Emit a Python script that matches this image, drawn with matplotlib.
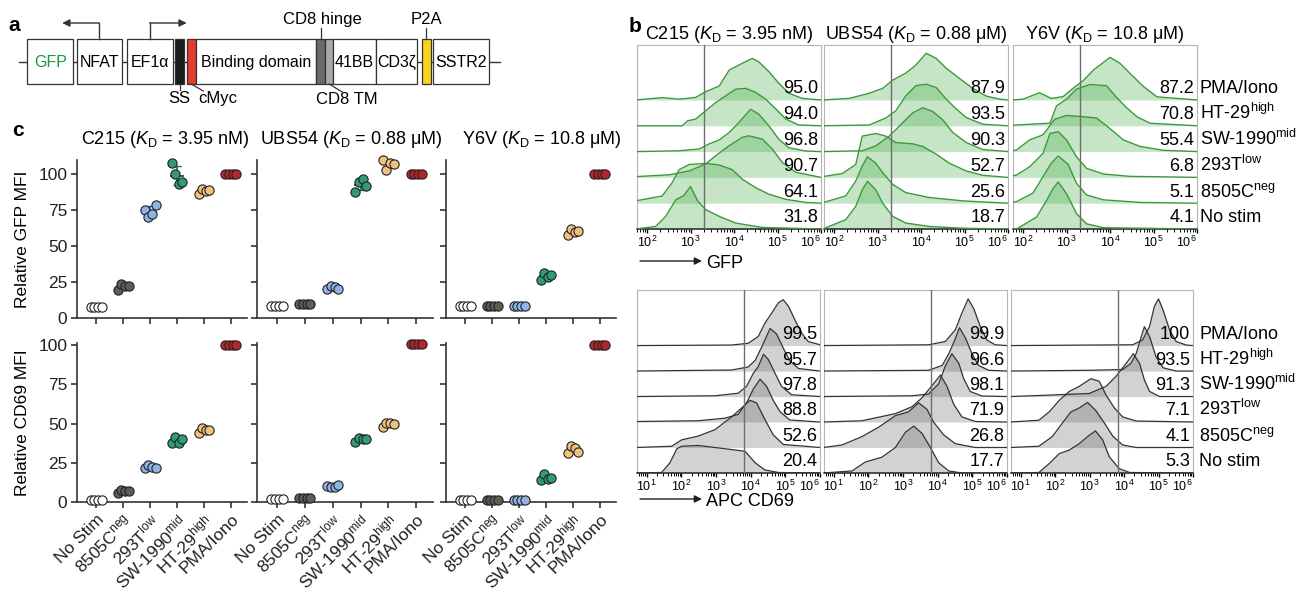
import numpy as np
import matplotlib
matplotlib.use('Agg')
import matplotlib.pyplot as plt
from matplotlib.patches import Rectangle
from matplotlib.ticker import LogLocator, NullFormatter

plt.rcParams['font.family'] = ['Liberation Sans', 'DejaVu Sans']
plt.rcParams['mathtext.fontset'] = 'custom'
plt.rcParams['mathtext.rm'] = 'Liberation Sans'
plt.rcParams['mathtext.it'] = 'Liberation Sans:italic'
plt.rcParams['mathtext.bf'] = 'Liberation Sans:bold'
plt.rcParams['mathtext.default'] = 'regular'

# ---------------- data ----------------
# panel a: construct parts (name, width in px, gap before, fill)
parts = ['GFP', 'NFAT', 'EF1α', 'SS', 'cMyc', 'Binding domain', 'CD8 hinge',
         'CD8 TM', '41BB', 'CD3ζ', 'P2A', 'SSTR2']
part_w = [46, 45, 46, 9.3, 9, 120.3, 9, 8.3, 42.7, 41.3, 9, 56.3]
part_gap = [8.3, 3.4, 5, 2.3, 2.4, 0, 0, 0, 0, 0, 4.4, 2]
part_fill = ['white', 'white', 'white', '#1c1c1c', '#e53a2f', 'white', '#6a6a6a',
             '#a9a9ab', 'white', 'white', '#f9d21a', 'white']

binders = ['C215', 'UBS54', 'Y6V']
kd_text = ['3.95 nM', '0.88 μM', '10.8 μM']

# panel b: rows top -> bottom
flow_rows = ['PMA/Iono', 'HT-29$^{high}$', 'SW-1990$^{mid}$', '293T$^{low}$',
             '8505C$^{neg}$', 'No stim']
gfp_pct_C215 = ['95.0', '94.0', '96.8', '90.7', '64.1', '31.8']
gfp_pct_UBS54 = ['87.9', '93.5', '90.3', '52.7', '25.6', '18.7']
gfp_pct_Y6V = ['87.2', '70.8', '55.4', '6.8', '5.1', '4.1']
cd69_pct_C215 = ['99.5', '95.7', '97.8', '88.8', '52.6', '20.4']
cd69_pct_UBS54 = ['99.9', '96.6', '98.1', '71.9', '26.8', '17.7']
cd69_pct_Y6V = ['100', '93.5', '91.3', '7.1', '4.1', '5.3']

# histogram outlines: (log10 intensity, height in row units)
gfp_C215 = [
    ([1.74, 2.35, 2.74, 3.12, 3.35, 3.66, 3.89, 4.19, 4.42, 4.57, 4.80, 5.03, 5.26, 5.57, 6.0],
     [0, .09, .03, .10, .32, .54, 1.16, 1.42, 1.61, 1.48, 1.10, .65, .26, .06, 0]),
    ([1.74, 2.81, 2.93, 3.12, 3.35, 3.58, 3.81, 4.04, 4.27, 4.50, 4.73, 4.96, 5.19, 5.49, 6.0],
     [0, 0, .19, .26, .58, .90, 1.16, 1.42, 1.45, 1.29, 1.03, .65, .26, .03, 0]),
    ([1.74, 2.74, 3.20, 3.43, 3.66, 3.89, 4.11, 4.38, 4.57, 4.80, 5.03, 5.26, 5.65, 6.0],
     [0, .03, .10, .30, .45, .74, 1.12, 1.64, 1.45, 1.0, .48, .15, .02, 0]),
    ([1.74, 2.51, 2.97, 3.35, 3.58, 3.89, 4.19, 4.34, 4.65, 4.88, 5.11, 5.42, 6.0],
     [.03, .10, .25, .52, .84, 1.23, 1.55, 1.61, 1.48, 1.10, .58, .20, 0]),
    ([1.74, 2.35, 2.58, 2.74, 2.97, 3.35, 3.66, 3.96, 4.19, 4.50, 4.80, 5.19, 5.65, 6.0],
     [.09, .28, .80, 1.30, 1.50, 1.54, 1.48, 1.30, .93, .60, .35, .15, .03, 0]),
    ([1.74, 2.20, 2.43, 2.66, 2.85, 3.00, 3.16, 3.35, 3.66, 4.04, 4.65, 6.0],
     [0, .10, .49, 1.13, 1.30, 1.65, 1.10, .75, .49, .23, .06, 0]),
]
gfp_UBS54 = [
    ([1.74, 2.35, 2.81, 3.12, 3.35, 3.65, 3.88, 4.12, 4.35, 4.58, 4.88, 5.19, 5.50, 5.81, 6.0],
     [0, .06, .26, .45, .77, 1.04, 1.35, 1.81, 1.61, 1.23, .84, .45, .15, .03, 0]),
    ([1.74, 2.81, 3.19, 3.42, 3.65, 3.88, 4.12, 4.35, 4.58, 4.81, 5.04, 5.42, 6.0],
     [0, .03, .30, .58, 1.16, 1.55, 1.61, 1.48, 1.03, .65, .32, .06, 0]),
    ([1.74, 2.65, 2.96, 3.27, 3.58, 3.81, 4.04, 4.27, 4.50, 4.73, 5.04, 5.42, 6.0],
     [0, .03, .22, .60, 1.12, 1.50, 1.70, 1.55, 1.23, .74, .35, .08, 0]),
    ([1.74, 2.19, 2.50, 2.65, 2.96, 3.19, 3.42, 3.81, 4.04, 4.35, 4.65, 5.04, 5.42, 6.0],
     [.03, .15, .50, 1.60, 1.70, 1.60, 1.35, 1.30, 1.20, .90, .55, .25, .08, 0]),
    ([1.74, 2.27, 2.50, 2.65, 2.77, 2.96, 3.12, 3.35, 3.65, 4.19, 4.96, 6.0],
     [.02, .28, .86, 1.44, 1.80, 1.55, 1.18, .73, .41, .22, .09, 0]),
    ([1.74, 2.27, 2.50, 2.65, 2.77, 2.96, 3.12, 3.35, 3.65, 4.19, 4.96, 6.0],
     [0, .36, .88, 1.52, 1.85, 1.52, 1.0, .49, .23, .10, .03, 0]),
]
gfp_Y6V = [
    ([1.74, 2.0, 2.38, 2.65, 2.92, 3.15, 3.38, 3.62, 4.0, 4.23, 4.46, 4.77, 5.08, 6.0],
     [0, .03, .28, .06, .13, .45, .74, 1.16, 1.65, 1.42, 1.03, .52, .12, 0]),
    ([1.74, 2.62, 2.77, 3.0, 3.23, 3.54, 3.92, 4.15, 4.38, 4.62, 4.92, 6.0],
     [.02, .10, .77, 1.03, 1.42, 1.60, 1.55, 1.10, .70, .35, .10, 0]),
    ([1.74, 1.85, 2.15, 2.46, 2.73, 3.0, 3.38, 3.69, 3.92, 4.31, 4.69, 5.23, 6.0],
     [.03, .06, .45, .65, 1.25, 1.40, 1.35, 1.30, 1.0, .45, .20, .05, 0]),
    ([1.74, 1.85, 2.15, 2.46, 2.62, 2.81, 3.0, 3.23, 3.46, 3.85, 4.46, 6.0],
     [.05, .09, .41, .93, 1.70, 1.77, 1.45, .80, .35, .13, .04, 0]),
    ([1.74, 1.85, 2.23, 2.46, 2.65, 2.81, 3.04, 3.23, 3.46, 3.85, 4.69, 6.0],
     [.04, .06, .39, 1.03, 1.55, 1.83, 1.50, .77, .32, .13, .03, 0]),
    ([1.74, 1.85, 2.31, 2.54, 2.69, 2.81, 3.0, 3.23, 3.46, 3.85, 6.0],
     [0, 0, .46, 1.10, 1.56, 1.82, 1.37, .60, .20, .05, 0]),
]
cd69_C215 = [
    ([0.7, 3.45, 3.93, 4.22, 4.41, 4.61, 4.80, 4.94, 5.09, 5.28, 5.47, 5.66, 6.0],
     [0, .02, .09, .36, .88, 1.28, 1.68, 1.80, 1.54, 1.0, .49, .16, .03]),
    ([0.7, 2.0, 3.45, 3.93, 4.13, 4.32, 4.56, 4.75, 4.94, 5.13, 5.38, 6.0],
     [0, .02, .04, .16, .42, .95, 1.67, 1.45, .90, .40, .10, 0]),
    ([0.7, 2.97, 3.64, 3.88, 4.08, 4.22, 4.37, 4.51, 4.70, 4.89, 5.18, 6.0],
     [0, .03, .13, .40, .92, 1.18, 1.66, 1.45, .92, .40, .07, 0]),
    ([0.7, 2.49, 3.26, 3.64, 3.88, 4.08, 4.27, 4.46, 4.65, 4.85, 5.13, 6.0],
     [.02, .05, .15, .30, .75, 1.30, 1.68, 1.40, .85, .40, .08, 0]),
    ([0.7, 1.72, 2.01, 2.49, 2.97, 3.45, 3.74, 3.98, 4.17, 4.41, 4.65, 4.94, 6.0],
     [0, .05, .30, .45, .70, 1.20, 1.55, 1.85, 1.75, 1.10, .50, .12, 0]),
    ([0.7, 1.43, 1.67, 1.87, 2.01, 2.49, 2.97, 3.45, 3.84, 4.13, 4.41, 4.80, 6.0],
     [0, .02, .40, .95, 1.05, 1.08, 1.0, .92, .85, .40, .12, .02, 0]),
]
cd69_UBS54 = [
    ([0.7, 3.74, 4.22, 4.51, 4.70, 4.88, 5.04, 5.23, 5.42, 5.66, 6.0],
     [0, .03, .16, .62, 1.28, 1.83, 1.45, .75, .22, .03, 0]),
    ([0.7, 3.74, 4.13, 4.32, 4.49, 4.63, 4.80, 4.99, 5.18, 5.47, 6.0],
     [0, .03, .22, .68, 1.20, 1.70, 1.30, .68, .22, .03, 0]),
    ([0.7, 3.26, 3.74, 4.03, 4.22, 4.41, 4.61, 4.75, 4.94, 5.28, 6.0],
     [0, .03, .10, .50, 1.20, 1.68, 1.30, .70, .20, .02, 0]),
    ([0.7, 1.82, 2.78, 3.26, 3.55, 3.79, 4.08, 4.27, 4.46, 4.70, 5.09, 6.0],
     [0, .05, .33, .60, .95, 1.35, 1.84, 1.40, .70, .20, .02, 0]),
    ([0.7, 1.24, 1.82, 2.30, 2.78, 3.16, 3.45, 3.69, 3.88, 4.17, 4.51, 5.09, 6.0],
     [0, .10, .43, .80, 1.25, 1.40, 1.75, 1.50, 1.0, .50, .15, 0, 0]),
    ([0.7, 1.53, 1.91, 2.39, 2.78, 3.07, 3.31, 3.55, 3.79, 4.03, 4.32, 4.70, 6.0],
     [0, .08, .43, .62, 1.0, 1.60, 1.84, 1.55, 1.0, .40, .08, 0, 0]),
]
cd69_Y6V = [
    ([0.7, 4.25, 4.54, 4.74, 4.88, 5.0, 5.13, 5.32, 5.51, 5.80, 6.0],
     [0, .03, .22, .75, 1.54, 1.83, 1.40, .62, .16, .02, 0]),
    ([0.7, 2.99, 3.96, 4.20, 4.35, 4.50, 4.59, 4.74, 4.93, 5.13, 5.51, 6.0],
     [0, .03, .06, .30, .68, 1.35, 1.74, 1.35, .55, .13, 0, 0]),
    ([0.7, 1.53, 2.99, 3.48, 3.77, 4.06, 4.27, 4.45, 4.59, 4.74, 5.03, 6.0],
     [0, .04, .12, .40, .80, 1.30, 1.68, 1.30, .65, .20, 0, 0]),
    ([0.7, 1.53, 1.83, 2.12, 2.41, 2.70, 3.04, 3.28, 3.48, 3.72, 3.96, 4.35, 6.0],
     [0, .07, .40, .85, 1.20, 1.40, 1.70, 1.60, 1.05, .55, .20, .04, 0]),
    ([0.7, 1.53, 1.92, 2.21, 2.46, 2.70, 2.94, 3.18, 3.43, 3.67, 3.96, 4.35, 6.0],
     [0, .05, .43, .96, 1.40, 1.55, 1.77, 1.45, .96, .45, .10, 0, 0]),
    ([0.7, 1.53, 1.83, 2.12, 2.41, 2.70, 2.99, 3.17, 3.38, 3.57, 3.86, 4.16, 6.0],
     [0, .02, .37, .76, .90, 1.15, 1.48, 1.65, 1.30, .64, .17, .02, 0]),
]
gfp_gate = 10 ** 3.3
cd69_gate = 10 ** 3.82

# panel c: stimulation groups, left -> right
groups = ['No Stim', '8505C$^{neg}$', '293T$^{low}$', 'SW-1990$^{mid}$',
          'HT-29$^{high}$', 'PMA/Iono']
group_colors = ['#ffffff', '#5a5f55', '#8fb4e3', '#2f9c74', '#f0c27f', '#b3262a']
group_dark = ['#333333', '#33362f', '#3c5f8c', '#1b6a4c', '#9c7434', '#6e1215']

gfp_mfi_C215 = [[8, 8, 8, 8], [19.5, 23.5, 22, 22], [75.5, 70, 72.3, 78.5],
                [108, 100.5, 93, 95], [86, 90, 88.5, 89], [100, 100, 100, 100]]
gfp_mfi_UBS54 = [[8.5, 8.5, 8.5, 8.5], [10, 10, 10, 10], [20, 22, 21.5, 20.5],
                 [88, 94.7, 97, 91.7], [110, 103, 108, 107.4], [100, 100, 100, 100]]
gfp_mfi_Y6V = [[8.5, 8.5, 8.5, 8.5], [8.5, 8.5, 8.5, 8.5], [8.5, 8.5, 8.5, 8.5],
               [26.4, 31, 28.7, 30], [57.6, 62.3, 59.7, 60.5], [100, 100, 100, 100]]
cd69_mfi_C215 = [[1.3, 1.3, 1.3, 1.3], [6, 7.5, 7, 7], [21.5, 23.5, 22, 21.5],
                 [37.4, 41.3, 37.4, 40.2], [43.8, 47, 46, 46], [100, 100, 100, 100]]
cd69_mfi_UBS54 = [[1.9, 1.9, 1.9, 1.9], [2.5, 2.5, 2.5, 2.5], [10.5, 9.8, 9.8, 11],
                  [38.5, 41, 40, 40], [48, 50.5, 50.5, 50], [100.5, 100.5, 100.5, 100.5]]
cd69_mfi_Y6V = [[1.5, 1.5, 1.5, 1.5], [1.2, 1.2, 1.2, 1.2], [1.2, 1.2, 1.2, 1.2],
                [13.8, 17.7, 14.5, 15], [30.9, 35.5, 34.7, 31.9], [100, 100, 100, 100]]

# ---------------- figure ----------------
W, H = 1303, 590
fig = plt.figure(figsize=(W / 100, H / 100), dpi=100)


def add_ax(l, t, r, b):
    return fig.add_axes([l / W, 1 - b / H, (r - l) / W, (b - t) / H])


ov = fig.add_axes([0, 0, 1, 1])
ov.set_xlim(0, W)
ov.set_ylim(H, 0)
ov.axis('off')

# panel letters
for s, x, y in [('a', 8, 31), ('b', 629, 32), ('c', 12, 136)]:
    ov.text(x, y, s, fontsize=15, fontweight='bold', va='baseline')

# ---- panel a: schematic ----
ytop, ybot = 39, 84
ymid = (ytop + ybot) / 2
x0 = 19
ov.plot([x0, 500], [ymid, ymid], color='#333333', lw=1, zorder=1)
left = {}
x = x0
for name, w, g, fc in zip(parts, part_w, part_gap, part_fill):
    x += g
    left[name] = x
    ov.add_patch(Rectangle((x, ytop), w, ybot - ytop, facecolor=fc,
                           edgecolor='#333333', lw=0.9, zorder=2))
    if fc == 'white':
        ov.text(x + w / 2, ymid + 1, name, ha='center', va='center', fontsize=11.5,
                color='#1a9641' if name == 'GFP' else 'black', zorder=3)
    x += w
cen = {n: left[n] + w / 2 for n, w in zip(parts, part_w)}

# promoter arrows
for name, direction in [('NFAT', -1), ('EF1α', 1)]:
    cx = cen[name]
    ov.plot([cx, cx], [ytop, 23], color='#333333', lw=1)
    ov.annotate('', xy=(cx + direction * 37, 23), xytext=(cx, 23),
                arrowprops=dict(arrowstyle='-|>', color='#333333', lw=1,
                                mutation_scale=11, shrinkA=0, shrinkB=0))

# callouts
ov.plot([cen['CD8 hinge']] * 2, [28, ytop], color='#333333', lw=0.9)
ov.text(cen['CD8 hinge'] + 2, 24, 'CD8 hinge', ha='center', va='baseline', fontsize=12)
ov.plot([cen['P2A']] * 2, [28, ytop], color='#333333', lw=0.9)
ov.text(cen['P2A'], 24, 'P2A', ha='center', va='baseline', fontsize=12)
ov.plot([cen['SS']] * 2, [ybot, 90], color='#333333', lw=0.9)
ov.text(cen['SS'], 103, 'SS', ha='center', va='baseline', fontsize=12)
ov.plot([cen['cMyc'], cen['cMyc'] + 12], [ybot, 91], color='#333333', lw=0.9)
ov.text(cen['cMyc'] + 7, 103, 'cMyc', ha='left', va='baseline', fontsize=12)
ov.plot([cen['CD8 TM'], cen['CD8 TM'] + 13], [ybot, 92], color='#333333', lw=0.9)
ov.text(cen['CD8 TM'] + 18, 104, 'CD8 TM', ha='center', va='baseline', fontsize=12)


# ---- panel b: flow histograms ----
def flow_panel(ax, curves, pcts, gate, xlo, ytop_rows, fill, line, alpha, lw):
    n = len(curves)
    for i, ((lx, hh), pct) in enumerate(zip(curves, pcts)):
        base = n - 1 - i
        xs = 10 ** np.asarray(lx)
        ys = base + np.asarray(hh)
        ax.fill_between(xs, base, ys, color=fill, alpha=alpha, lw=0, zorder=2)
        ax.plot(xs, ys, color=line, lw=lw, zorder=3)
        ax.text(0.985, base + 0.1, pct, transform=ax.get_yaxis_transform(),
                ha='right', va='bottom', fontsize=13, zorder=5)
    ax.axvline(gate, color='#6e6e6e', lw=1, zorder=4)
    ax.set_xscale('log')
    ax.set_xlim(10 ** xlo, 1e6)
    ax.set_ylim(0, ytop_rows)
    ax.set_yticks([])
    decades = np.arange(int(np.ceil(xlo)), 7)
    ax.set_xticks(10.0 ** decades)
    ax.set_xticklabels(['$10^{%d}$' % d for d in decades], fontsize=9)
    ax.get_xticklabels()[-1].set_horizontalalignment('right')
    ax.xaxis.set_minor_locator(LogLocator(base=10, subs=np.arange(2, 10), numticks=20))
    ax.xaxis.set_minor_formatter(NullFormatter())
    ax.tick_params(axis='x', which='major', direction='out', length=3, width=1, pad=1.5)
    ax.tick_params(axis='x', which='minor', direction='out', length=1.8, width=0.7)
    for sp in ['top', 'left', 'right']:
        ax.spines[sp].set_color('#b5b5b5')
    ax.spines['bottom'].set_color('#222222')
    ax.spines['bottom'].set_linewidth(1.1)


gfp_sets = [gfp_C215, gfp_UBS54, gfp_Y6V]
gfp_pcts = [gfp_pct_C215, gfp_pct_UBS54, gfp_pct_Y6V]
cd69_sets = [cd69_C215, cd69_UBS54, cd69_Y6V]
cd69_pcts = [cd69_pct_C215, cd69_pct_UBS54, cd69_pct_Y6V]
b_cols = [(637, 821), (824, 1008), (1013, 1197)]
b_cols2 = [(637, 820), (824, 1007), (1011, 1193)]

for j in range(3):
    ax = add_ax(b_cols[j][0], 45, b_cols[j][1], 229)
    flow_panel(ax, gfp_sets[j], gfp_pcts[j], gfp_gate, 1.77, 7.13,
               '#4caf50', '#3a9a3a', 0.32, 1.0)
    ov.text((b_cols[j][0] + b_cols[j][1]) / 2, 39,
            binders[j] + r' ($\mathit{K}_{\mathrm{D}}$ = ' + kd_text[j] + ')',
            ha='center', va='baseline', fontsize=13)
    if j == 2:
        for i, lab in enumerate(flow_rows):
            ax.text(1.016, 5 - i + 0.1, lab, transform=ax.get_yaxis_transform(),
                    ha='left', va='bottom', fontsize=13)
    ax2 = add_ax(b_cols2[j][0], 290, b_cols2[j][1], 473)
    flow_panel(ax2, cd69_sets[j], cd69_pcts[j], cd69_gate, 0.72, 7.18,
               '#6a6a6a', '#333333', 0.3, 0.9)
    if j == 2:
        for i, lab in enumerate(flow_rows):
            ax2.text(1.035, 5 - i + 0.1, lab, transform=ax2.get_yaxis_transform(),
                     ha='left', va='bottom', fontsize=13)

for y, lab in [(261, 'GFP'), (499, 'APC CD69')]:
    ov.annotate('', xy=(702, y), xytext=(640, y),
                arrowprops=dict(arrowstyle='-|>', color='#222222', lw=1,
                                mutation_scale=11, shrinkA=0, shrinkB=0))
    ov.text(706, y + 7, lab, ha='left', va='baseline', fontsize=13)

# ---- panel c: relative MFI strip plots ----
offs = np.array([-0.2, -0.07, 0.07, 0.2])
c_cols = [(77, 247), (257, 433), (446, 616)]
c_title_x = [165, 351, 542]
gfp_mfi = [gfp_mfi_C215, gfp_mfi_UBS54, gfp_mfi_Y6V]
cd69_mfi = [cd69_mfi_C215, cd69_mfi_UBS54, cd69_mfi_Y6V]


def strip_panel(ax, data, ylim, show_x, show_y, ylabel):
    for i, vals in enumerate(data):
        vals = np.asarray(vals, dtype=float)
        m, s = vals.mean(), vals.std(ddof=1)
        ax.errorbar(i, m, yerr=s, color=group_dark[i], lw=1.2, capsize=3,
                    zorder=2, clip_on=False)
        ax.hlines(m, i - 0.25, i + 0.25, color=group_dark[i], lw=1.4, zorder=2)
        ax.scatter(i + offs, vals, s=44, c=group_colors[i], edgecolors='#222222',
                   linewidths=0.8, zorder=3, clip_on=False)
    ax.set_xlim(-0.72, 5.6)
    ax.set_ylim(*ylim)
    ax.set_yticks([0, 25, 50, 75, 100])
    ax.set_xticks(range(len(groups)))
    if show_x:
        ax.set_xticklabels(groups, rotation=45, ha='right', rotation_mode='anchor',
                           fontsize=12.5)
    else:
        ax.set_xticklabels([])
    if not show_y:
        ax.set_yticklabels([])
    else:
        ax.set_ylabel(ylabel, fontsize=12.5, labelpad=6)
    ax.tick_params(axis='both', direction='out', length=4, width=1.1,
                   labelsize=12.5, colors='#222222', pad=3)
    for sp in ['top', 'right']:
        ax.spines[sp].set_visible(False)
    for sp in ['left', 'bottom']:
        ax.spines[sp].set_color('#333333')
        ax.spines[sp].set_linewidth(1.2)
    ax.patch.set_alpha(0)


for j in range(3):
    l, r = c_cols[j]
    ax = add_ax(l, 160, r, 318)
    strip_panel(ax, gfp_mfi[j], (0, 110), False, j == 0, 'Relative GFP MFI')
    ax = add_ax(l, 343, r, 502)
    strip_panel(ax, cd69_mfi[j], (0, 101.3), True, j == 0, 'Relative CD69 MFI')
    ov.text(c_title_x[j], 144,
            binders[j] + r' ($\mathit{K}_{\mathrm{D}}$ = ' + kd_text[j] + ')',
            ha='center', va='baseline', fontsize=13)

fig.savefig('out.png', dpi=100)
